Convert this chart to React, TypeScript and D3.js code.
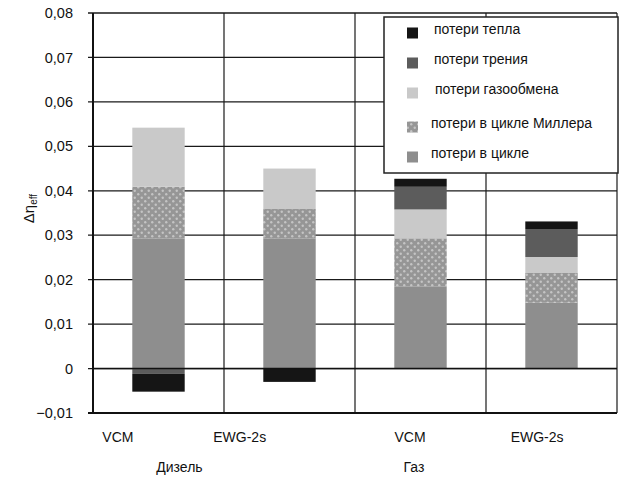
import React from "react";
import * as d3 from "d3";

// Engine variants and fuel groups
const variants = ["VCM", "EWG-2s", "VCM", "EWG-2s"];
const groups = ["Дизель", "Газ"];

// Loss components, bottom to top of each stacked bar
const lossKeys = ["cycle", "miller", "gasExchange", "friction", "heat"];
const lossLabels = [
  "потери в цикле",
  "потери в цикле Миллера",
  "потери газообмена",
  "потери трения",
  "потери тепла",
];

// Loss values per bar (Дизель VCM, Дизель EWG-2s, Газ VCM, Газ EWG-2s)
const cycleLoss = [0.0293, 0.0293, 0.0185, 0.0148];
const millerLoss = [0.0116, 0.0066, 0.0108, 0.0067];
const gasExchangeLoss = [0.0133, 0.0091, 0.0065, 0.0036];
const frictionLoss = [-0.0012, 0, 0.0051, 0.0063];
const heatLoss = [-0.0040, -0.0030, 0.0018, 0.0017];

const yTicks = [-0.01, 0, 0.01, 0.02, 0.03, 0.04, 0.05, 0.06, 0.07, 0.08];

const W = 624;
const H = 480;
const m = { left: 93, right: 7, top: 13, bottom: 67 };

const fills: Record<string, string> = {
  cycle: "#8e8e8e",
  miller: "url(#millerDots)",
  gasExchange: "#c9c9c9",
  friction: "#5c5c5c",
  heat: "#151515",
};

const font = "'Liberation Sans', Arial, sans-serif";

export default function App() {
  const rows = variants.map((v, i) => ({
    id: i,
    cycle: cycleLoss[i],
    miller: millerLoss[i],
    gasExchange: gasExchangeLoss[i],
    friction: frictionLoss[i],
    heat: heatLoss[i],
  }));

  const x = d3
    .scaleBand<number>()
    .domain(rows.map((r) => r.id))
    .range([m.left, W - m.right])
    .padding(0);
  const y = d3
    .scaleLinear()
    .domain([-0.01, 0.08])
    .range([H - m.bottom, m.top]);

  const stack = d3
    .stack<any>()
    .keys(lossKeys)
    .offset(d3.stackOffsetDiverging);
  const series = stack(rows);

  const bw = x.bandwidth();
  const barW = bw * 0.4;
  const x0 = m.left;
  const x1 = W - m.right;

  // label offsets within each band (fraction of band width)
  const variantPos = [0.19, 0.12, 0.42, 0.39];
  const groupPos = [
    (x(0)! + x(1)!) / 2 + bw * 0.16,
    (x(2)! + x(3)!) / 2 - bw * 0.05,
  ];

  const legendX = 384;
  const legendY = 17;
  const legendRows = [
    { key: "heat", y: 33, tx: 434 },
    { key: "friction", y: 63, tx: 434 },
    { key: "gasExchange", y: 93, tx: 435 },
    { key: "miller", y: 127, tx: 431 },
    { key: "cycle", y: 157, tx: 431 },
  ];

  return (
    <svg
      width={W}
      height={H}
      style={{ position: "absolute", left: 0, top: 0, background: "#fff" }}
      fontFamily={font}
    >
      <defs>
        <pattern
          id="millerDots"
          width="7"
          height="7"
          patternUnits="userSpaceOnUse"
        >
          <rect width="7" height="7" fill="#969696" />
          <circle cx="1.75" cy="1.75" r="1.2" fill="#c4c4c4" />
          <circle cx="5.25" cy="5.25" r="1.2" fill="#c4c4c4" />
        </pattern>
      </defs>
      <rect width={W} height={H} fill="#fff" />

      {/* horizontal grid */}
      {yTicks.map((t) => (
        <g key={t}>
          <line
            x1={x0 - 5}
            x2={x1}
            y1={y(t)}
            y2={y(t)}
            stroke="#1a1a1a"
            strokeWidth={1.3}
          />
          <text
            x={73}
            y={y(t)}
            dy="0.35em"
            textAnchor="end"
            fontSize={14.5}
            fill="#111"
          >
            {t === 0 ? "0" : (t < 0 ? "\u2212" : "") + Math.abs(t).toFixed(2).replace(".", ",")}
          </text>
        </g>
      ))}

      {/* category separators */}
      {rows.map((r) => (
        <line
          key={"v" + r.id}
          x1={x(r.id)! + bw}
          x2={x(r.id)! + bw}
          y1={y(0.08)}
          y2={y(-0.01)}
          stroke="#1a1a1a"
          strokeWidth={1.2}
        />
      ))}

      {/* bars */}
      {series.map((s) =>
        s.map((d, i) => {
          const top = Math.max(d[0], d[1]);
          const bot = Math.min(d[0], d[1]);
          if (top - bot <= 0) return null;
          return (
            <rect
              key={s.key + i}
              x={x(i)! + (bw - barW) / 2}
              width={barW}
              y={y(top)}
              height={y(bot) - y(top)}
              fill={fills[s.key]}
            />
          );
        })
      )}

      {/* zero line over bars */}
      <line
        x1={x0}
        x2={x1}
        y1={y(0)}
        y2={y(0)}
        stroke="#111"
        strokeWidth={1.6}
      />

      {/* y axis */}
      <line
        x1={x0}
        x2={x0}
        y1={y(0.08)}
        y2={y(-0.01)}
        stroke="#111"
        strokeWidth={2}
      />
      <line
        x1={x0 - 5}
        x2={x1}
        y1={y(-0.01)}
        y2={y(-0.01)}
        stroke="#111"
        strokeWidth={1.8}
      />

      {/* axis title */}
      <text
        transform={`translate(34, ${y(0.036)}) rotate(-90)`}
        textAnchor="middle"
        fontSize={15}
        fill="#111"
      >
        Δη
        <tspan fontSize={10} dy="3">eff</tspan>
      </text>

      {/* category labels */}
      {variants.map((v, i) => (
        <text
          key={"lab" + i}
          x={x(i)! + bw * variantPos[i]}
          y={442}
          textAnchor="middle"
          fontSize={14}
          fill="#111"
        >
          {v}
        </text>
      ))}
      {groups.map((g, i) => (
        <text
          key={g}
          x={groupPos[i]}
          y={472}
          textAnchor="middle"
          fontSize={14}
          fill="#111"
        >
          {g}
        </text>
      ))}

      {/* legend */}
      <rect
        x={legendX}
        y={legendY}
        width={x1 - legendX + 1}
        height={156}
        fill="#fff"
        stroke="#222"
        strokeWidth={1.5}
      />
      {legendRows.map((r) => (
        <g key={r.key}>
          <rect
            x={407}
            y={r.y - 5.5}
            width={11}
            height={11}
            fill={fills[r.key]}
          />
          <text
            x={r.tx}
            y={r.y}
            dy="0.1em"
            fontSize={14}
            fill="#111"
          >
            {lossLabels[lossKeys.indexOf(r.key)]}
          </text>
        </g>
      ))}
    </svg>
  );
}
